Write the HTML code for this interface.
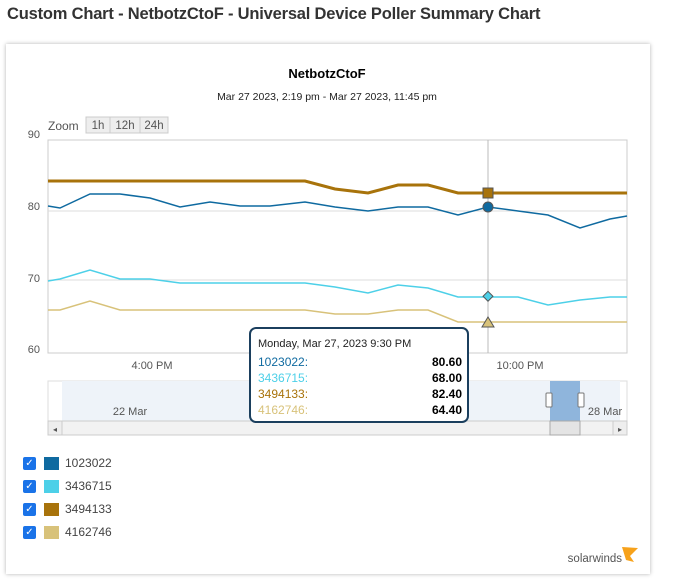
<!DOCTYPE html>
<html><head><meta charset="utf-8"><style>
body{margin:0;width:691px;height:580px;background:#fff;font-family:"Liberation Sans",sans-serif;position:relative;overflow:hidden}
.h{position:absolute;left:7px;top:5px;font-size:16.5px;font-weight:bold;color:#333;letter-spacing:-0.2px}
.panel{position:absolute;left:6px;top:44px;width:644px;height:530px;background:#fff;box-shadow:0 0 4px rgba(0,0,0,.3)}
.leg{position:absolute;left:23px;font-size:12px;color:#444}
.cb{display:inline-block;width:13px;height:13px;background:#1a73e8;border-radius:2px;color:#fff;font-size:10px;text-align:center;line-height:13px;vertical-align:middle}
.sw{display:inline-block;width:15px;height:13px;margin:0 6px 0 8px;vertical-align:middle}
</style></head><body>
<div class="h">Custom Chart - NetbotzCtoF - Universal Device Poller Summary Chart</div>
<div class="panel"></div>
<svg style="position:absolute;left:0;top:0" width="691" height="580" font-family="Liberation Sans, sans-serif">
<text x="327" y="78" text-anchor="middle" font-size="13" font-weight="bold">NetbotzCtoF</text>
<text x="327" y="100" text-anchor="middle" font-size="10.5" fill="#222">Mar 27 2023, 2:19 pm - Mar 27 2023, 11:45 pm</text>
<text x="48" y="130" font-size="12" fill="#555">Zoom</text>
<rect x="86" y="117" width="82" height="16" fill="#eee" stroke="#ccc"/>
<line x1="110" y1="117" x2="110" y2="133" stroke="#ccc"/><line x1="140" y1="117" x2="140" y2="133" stroke="#ccc"/>
<text x="98" y="129" font-size="11.5" fill="#555" text-anchor="middle">1h</text>
<text x="125" y="129" font-size="11.5" fill="#555" text-anchor="middle">12h</text>
<text x="154" y="129" font-size="11.5" fill="#555" text-anchor="middle">24h</text>
<g font-size="11" fill="#555" text-anchor="end"><text x="40" y="138">90</text><text x="40" y="210">80</text><text x="40" y="282">70</text><text x="40" y="353">60</text></g>
<rect x="48" y="140" width="579" height="213" fill="none" stroke="#ccc"/>
<line x1="48" y1="211" x2="627" y2="211" stroke="#ddd"/><line x1="48" y1="280" x2="627" y2="280" stroke="#ddd"/>
<line x1="488" y1="140" x2="488" y2="353" stroke="#bbb"/>
<g fill="none" stroke-width="2">
<polyline stroke="#a8730b" stroke-width="3" points="48,181 305,181 335,189 368,193 398,185 428,185 458,193 488,193 627,193"/>
<polyline stroke="#0f6aa0" stroke-width="1.5" points="48,206 60,208 90,194 120,194 150,198 180,207 210,202 240,206 270,206 305,202 335,207 368,211 398,207 428,207 458,215 488,207 518,211 548,215 580,228 610,219 627,216"/>
<polyline stroke="#4dd0e8" stroke-width="1.5" points="48,281 60,279 90,270 120,279 150,279 180,283 305,283 335,287 368,293 398,285 428,288 458,297 518,297 548,305 580,300 610,297 627,297"/>
<polyline stroke="#d8c27a" stroke-width="1.5" points="48,310 60,310 90,301 120,310 305,310 335,314 368,314 398,310 428,310 458,322 627,322"/>
</g>
<rect x="483" y="188" width="10" height="10" fill="#a8730b" stroke="#555"/>
<circle cx="488" cy="207" r="5" fill="#0f6aa0" stroke="#555"/>
<rect x="484" y="293" width="7" height="7" fill="#4dd0e8" stroke="#555" transform="rotate(45 488 297)"/>
<polygon points="488,317 494,327 482,327" fill="#d8c27a" stroke="#555"/>
<g font-size="11" fill="#555" text-anchor="middle"><text x="152" y="369">4:00 PM</text><text x="520" y="369">10:00 PM</text></g>
<rect x="48" y="381" width="579" height="40" fill="#fff" stroke="#ddd"/>
<rect x="62" y="381" width="490" height="40" fill="#eef3f9"/>
<rect x="550" y="381" width="30" height="40" fill="#8fb5dc"/>
<rect x="580" y="381" width="40" height="40" fill="#eef3f9"/>
<text x="130" y="415" font-size="11" fill="#555" text-anchor="middle">22 Mar</text>
<text x="605" y="415" font-size="11" fill="#555" text-anchor="middle">28 Mar</text>
<rect x="546" y="393" width="6" height="14" fill="#fff" stroke="#777" rx="1"/><rect x="578" y="393" width="6" height="14" fill="#fff" stroke="#777" rx="1"/>
<rect x="48" y="421" width="579" height="14" fill="#f2f2f2" stroke="#ccc"/>
<rect x="48" y="421" width="14" height="14" fill="#eee" stroke="#ccc"/><rect x="613" y="421" width="14" height="14" fill="#eee" stroke="#ccc"/>
<rect x="550" y="421" width="30" height="14" fill="#e4e4e4" stroke="#aaa"/>
<text x="55" y="432" font-size="8" text-anchor="middle" fill="#555">◂</text><text x="620" y="432" font-size="8" text-anchor="middle" fill="#555">▸</text>
<rect x="250" y="328" width="218" height="94" rx="6" fill="#fff" stroke="#1b3f5e" stroke-width="2"/>
<text x="258" y="347" font-size="11" fill="#222">Monday, Mar 27, 2023 9:30 PM</text>
<g font-size="12">
<text x="258" y="366" fill="#0f6aa0">1023022:</text><text x="462" y="366" text-anchor="end" font-weight="bold">80.60</text>
<text x="258" y="382" fill="#4dd0e8">3436715:</text><text x="462" y="382" text-anchor="end" font-weight="bold">68.00</text>
<text x="258" y="398" fill="#a8730b">3494133:</text><text x="462" y="398" text-anchor="end" font-weight="bold">82.40</text>
<text x="258" y="414" fill="#d8c27a">4162746:</text><text x="462" y="414" text-anchor="end" font-weight="bold">64.40</text>
</g>
<text x="622" y="562" font-size="11.5" fill="#555" text-anchor="end">solarwinds</text>
<polygon points="622,547 638,548 630,556 634,562 626,560" fill="#f7a21b"/>
</svg>
<div class="leg" style="top:456px"><span class="cb">✓</span><span class="sw" style="background:#0f6aa0"></span>1023022</div>
<div class="leg" style="top:479px"><span class="cb">✓</span><span class="sw" style="background:#4dd0e8"></span>3436715</div>
<div class="leg" style="top:502px"><span class="cb">✓</span><span class="sw" style="background:#a8730b"></span>3494133</div>
<div class="leg" style="top:525px"><span class="cb">✓</span><span class="sw" style="background:#d8c27a"></span>4162746</div>
</body></html>
